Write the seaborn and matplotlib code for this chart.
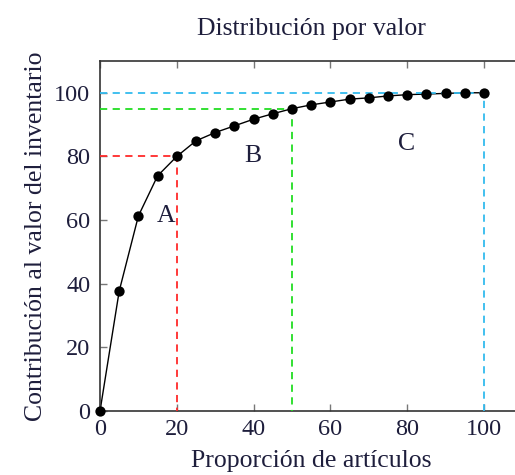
import numpy as np
import pandas as pd
import matplotlib
matplotlib.use('Agg')
import matplotlib.pyplot as plt
import seaborn as sns

# data
proporcion = [0, 5, 10, 15, 20, 25, 30, 35, 40, 45, 50, 55, 60, 65, 70, 75, 80, 85, 90, 95, 100]
contribucion = [0, 37.7, 61.3, 73.9, 80, 84.9, 87.5, 89.6, 91.7, 93.4, 95, 96.2, 97.1, 98.0,
                98.4, 99.0, 99.4, 99.6, 99.8, 100, 100]

# ABC cut points
corte_x = [20, 50, 100]
corte_y = [80, 95, 100]
corte_col = ['#ff2a2a', '#22dd22', '#33bbee']

zonas = ['A', 'B', 'C']
zona_x = [14.8, 37.5, 77.5]
zona_y = [61.3, 80, 84]

sns.set_theme(style="ticks")
plt.rcParams['font.family'] = ['Liberation Serif', 'DejaVu Serif']

df = pd.DataFrame({'x': proporcion, 'y': contribucion})

fig = plt.figure(figsize=(5.15, 4.75), dpi=100)
ax = fig.add_axes([0.1942, 0.1347, 0.820, 0.737])

sns.lineplot(data=df, x='x', y='y', color='black', lw=1.0, ax=ax, zorder=2)

for cx, cy, c in zip(corte_x, corte_y, corte_col):
    ax.plot([0, cx, cx], [cy, cy, 0], ls=(0, (4, 3)), color=c, lw=1.3, zorder=3)

sns.scatterplot(data=df, x='x', y='y', color='black', s=55, edgecolor='black',
                linewidth=0, ax=ax, zorder=4, clip_on=False)

for t, zx, zy in zip(zonas, zona_x, zona_y):
    ax.text(zx, zy, t, fontsize=18.5, color='#1e1e3c', ha='left', va='center')

ax.set_xlim(0, 110)
ax.set_ylim(0, 110)
ax.set_xticks([0, 20, 40, 60, 80, 100])
ax.set_yticks([0, 20, 40, 60, 80, 100])
ax.tick_params(direction='in', length=5, width=1, color='#777777', labelsize=17.5,
               top=True, right=True, labelcolor='#1e1e3c')
ax.tick_params(axis='x', pad=6)
ax.tick_params(axis='y', pad=7)
for s in ax.spines.values():
    s.set_color('#333333')
    s.set_linewidth(1.2)

ax.set_title('Distribución por valor', fontsize=18.5, pad=19, color='#1e1e3c')
ax.set_xlabel('Proporción de artículos', fontsize=18.5, labelpad=7, color='#1e1e3c')
ax.set_ylabel('Contribución al valor del inventario', fontsize=18.5, labelpad=5, color='#1e1e3c')

plt.savefig('out.png', dpi=100)
plt.close()
